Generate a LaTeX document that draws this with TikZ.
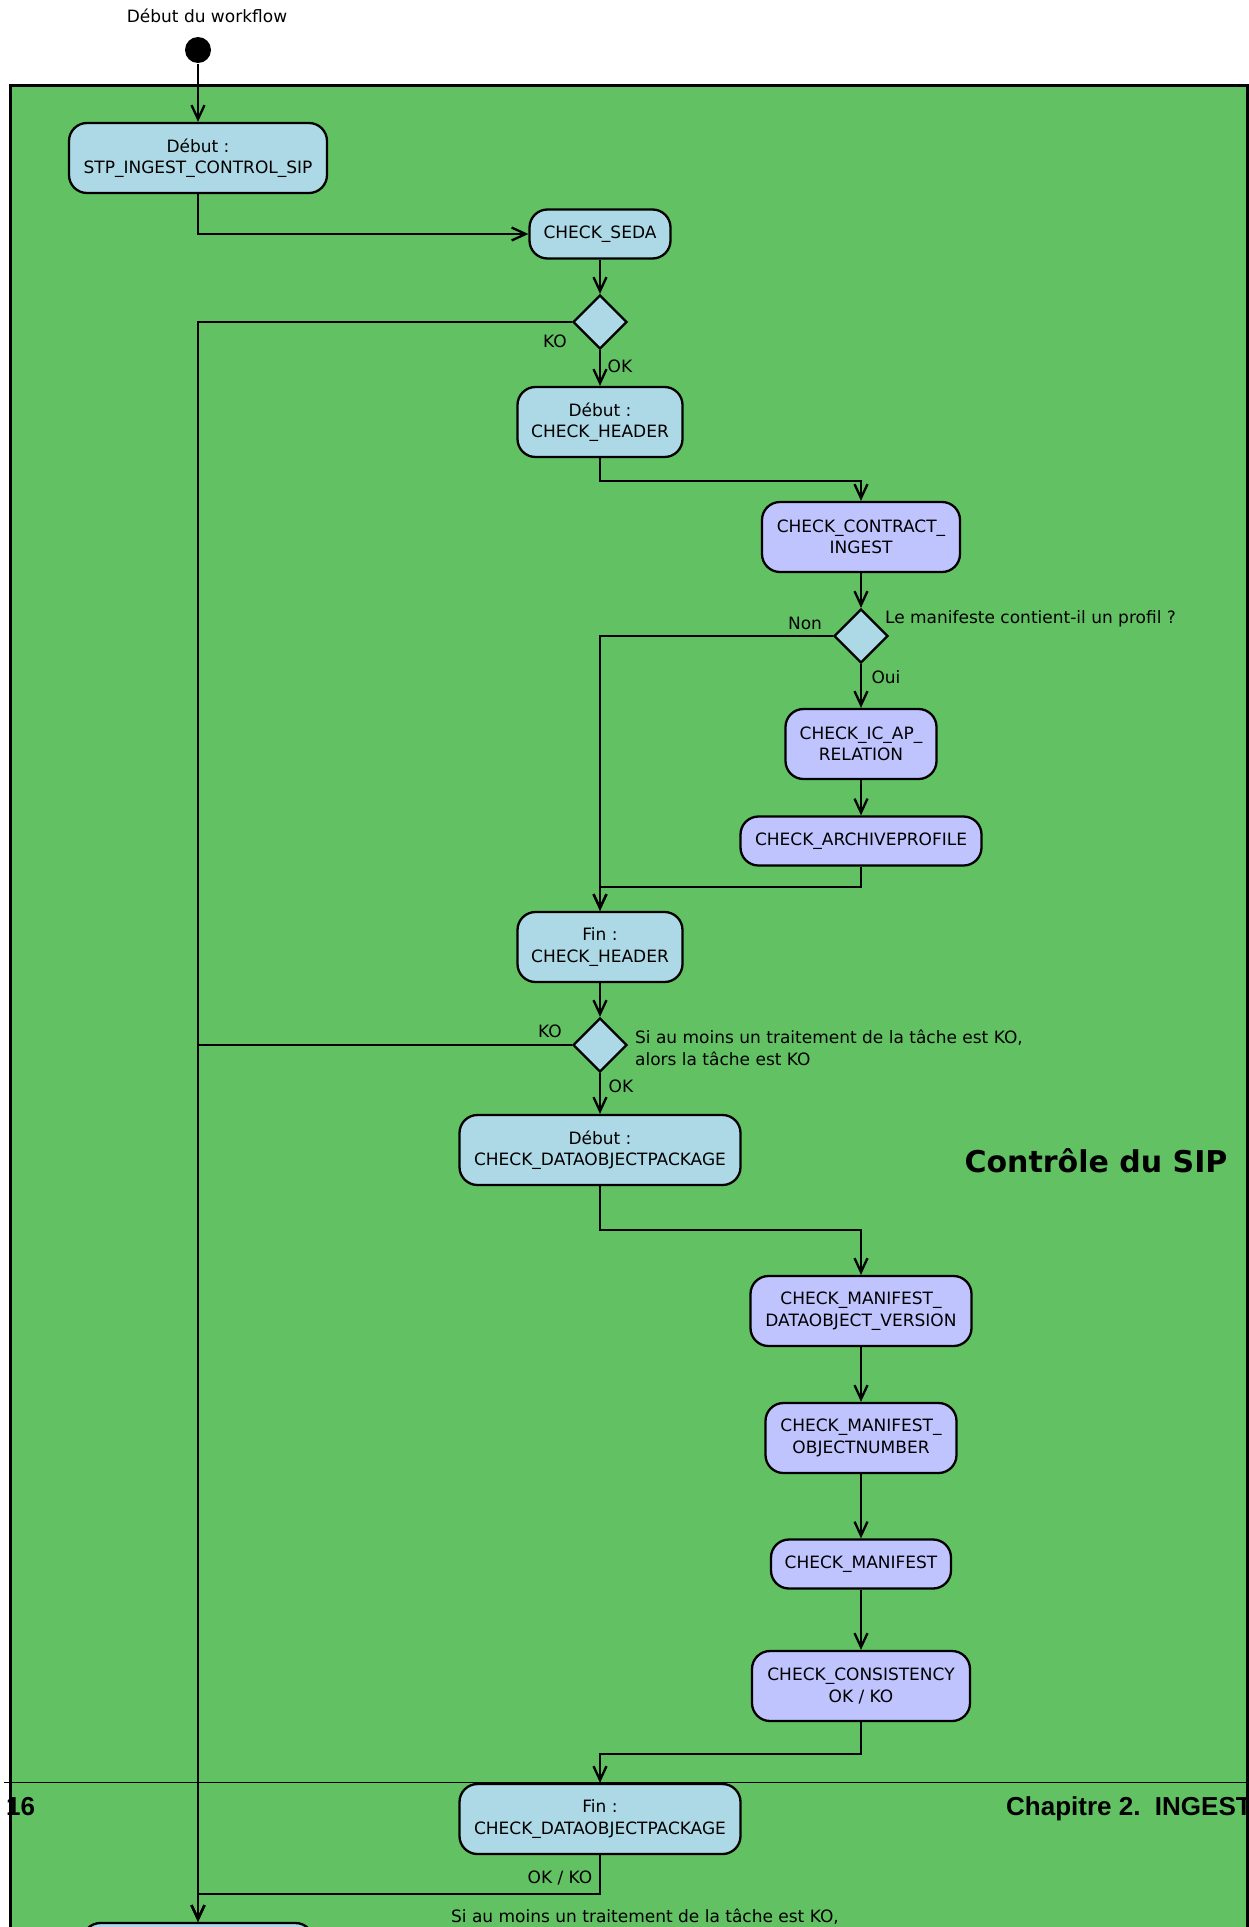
\documentclass[tikz,border=0pt]{standalone}
\usepackage{fontspec}
\setmainfont{DejaVu Sans}
\newfontfamily\pagefont{Liberation Sans}
\usetikzlibrary{shapes.geometric,arrows.meta,positioning}
\definecolor{sipgreen}{RGB}{98,193,99}
\definecolor{phaseblue}{RGB}{173,216,230}
\definecolor{tasklilac}{RGB}{191,196,255}
\tikzset{
  phase/.style = {rectangle, rounded corners=18pt, draw=black, fill=phaseblue, line width=2.3pt, align=center, inner sep=0pt, minimum height=49pt, font=\fontsize{17}{21.5}\selectfont},
  task/.style = {phase, fill=tasklilac},
  twolines/.style = {minimum height=70pt},
  decision/.style = {diamond, draw=black, fill=phaseblue, line width=2.3pt, inner sep=0pt, minimum width=54pt, minimum height=54pt},
  guard/.style = {inner sep=0pt, font=\fontsize{17}{22}\selectfont},
  pagetext/.style = {anchor=base west, inner sep=0pt, font=\pagefont\bfseries\fontsize{26}{31}\selectfont}
}

\begin{document}
\begin{tikzpicture}[x=1pt, y=-1pt, >={Straight Barb[length=14pt,width=13pt]}, line width=2.3pt]
\useasboundingbox (0,0) rectangle (1249,1927);
% cadre du processus
\draw[fill=sipgreen, line width=3pt] (10.5,85.5) rectangle (1247.5,2010);

\node[guard, anchor=base] (titre) at (207,23) {Début du workflow};
\node[circle, fill=black, minimum size=26pt, inner sep=0pt] (depart) at (198,50) {};

% etapes
\node[phase, twolines, minimum width=258pt] (stpdebut) at (198,158) {Début :\\STP\_INGEST\_CONTROL\_SIP};
\node[phase, minimum width=141pt] (seda) at (600,234) {CHECK\_SEDA};
\node[decision] (dseda) at (600,322) {};
\node[phase, twolines, minimum width=165pt] (hdebut) at (600,422) {Début :\\CHECK\_HEADER};
\node[task, twolines, minimum width=198pt] (contrat) at (861,537) {CHECK\_CONTRACT\_\\INGEST};
\node[decision] (dprofil) at (861,636) {};
\node[task, twolines, minimum width=151pt] (icap) at (861,744) {CHECK\_IC\_AP\_\\RELATION};
\node[task, minimum width=241pt] (profil) at (861,841) {CHECK\_ARCHIVEPROFILE};
\node[phase, twolines, minimum width=165pt] (hfin) at (600,947) {Fin :\\CHECK\_HEADER};
\node[decision] (dheader) at (600,1045) {};
\node[phase, twolines, minimum width=281pt] (dopdebut) at (600,1150) {Début :\\CHECK\_DATAOBJECTPACKAGE};
\node[task, twolines, minimum width=221pt] (version) at (861,1311) {CHECK\_MANIFEST\_\\DATAOBJECT\_VERSION};
\node[task, twolines, minimum width=191pt] (nombre) at (861,1438) {CHECK\_MANIFEST\_\\OBJECTNUMBER};
\node[task, minimum width=180pt] (manifeste) at (861,1564) {CHECK\_MANIFEST};
\node[task, twolines, minimum width=218pt] (coherence) at (861,1686) {CHECK\_CONSISTENCY\\OK / KO};
\node[phase, twolines, minimum width=281pt] (dopfin) at (600,1819) {Fin :\\CHECK\_DATAOBJECTPACKAGE};
\node[phase, twolines, minimum width=231pt] (suite) at (198,1958) {};

% liens
\draw[->] (depart) -- (stpdebut);
\draw[->] (stpdebut.south) |- (seda.west);
\draw[->] (seda) -- (dseda);
\draw[->] (dseda.west) -| (suite.north);
\draw[->] (dseda) -- (hdebut);
\draw[->] (hdebut.south) -- ++(0,23) -| (contrat.north);
\draw[->] (contrat) -- (dprofil);
\draw[->] (dprofil.west) -| (hfin.north);
\draw[->] (dprofil) -- (icap);
\draw[->] (icap) -- (profil);
\draw[->] (profil.south) -- ++(0,20) -| (hfin.north);
\draw[->] (hfin) -- (dheader);
\draw[->] (dheader.west) -| (suite.north);
\draw[->] (dheader) -- (dopdebut);
\draw[->] (dopdebut.south) -- ++(0,44) -| (version.north);
\draw[->] (version) -- (nombre);
\draw[->] (nombre) -- (manifeste);
\draw[->] (manifeste) -- (coherence);
\draw[->] (coherence.south) -- ++(0,32) -| (dopfin.north);
\draw[->] (dopfin.south) -- ++(0,39) -| (suite.north);

% gardes et notes
\node[guard, anchor=base] (koseda) at (555,347) {KO};
\node[guard, anchor=base] (okseda) at (620,372) {OK};
\node[guard, anchor=base] (non) at (805,629) {Non};
\node[guard, anchor=base west] (question) at (884,623) {Le manifeste contient-il un profil ?};
\node[guard, anchor=base] (oui) at (886,683) {Oui};
\node[guard, anchor=base] (koheader) at (550,1037) {KO};
\node[guard, align=left, anchor=north west] (regle) at (634,1028.5) {Si au moins un traitement de la tâche est KO,\\alors la tâche est KO};
\node[guard, anchor=base] (okheader) at (621,1092) {OK};
\node[guard, anchor=base, font=\bfseries\fontsize{30}{36}\selectfont] (controle) at (1096,1172) {Contrôle du SIP};
\node[guard, anchor=base] (okko) at (560,1883) {OK / KO};
\node[guard, anchor=base west] (regle2) at (450,1922) {Si au moins un traitement de la tâche est KO,};

% pied de page
\draw[line width=1pt] (4,1782) -- (1249,1782);
\node[pagetext] (page) at (5,1815) {16};
\node[pagetext] (chapitre) at (1005,1815) {Chapitre 2.~~INGEST};
\end{tikzpicture}
\end{document}
